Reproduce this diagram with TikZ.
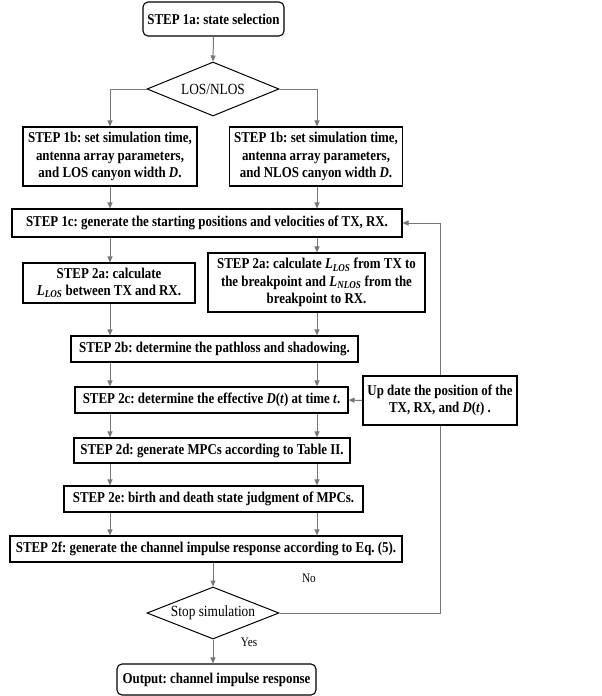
\documentclass[tikz,border=0pt]{standalone}
\usepackage{fontspec}
\setmainfont{Liberation Serif}[FakeStretch=0.86]
\usetikzlibrary{shapes.geometric,arrows.meta}
\definecolor{lgray}{HTML}{777777}
\newcommand{\bi}[1]{\textbf{\textit{#1}}}
\frenchspacing
\begin{document}
\begin{tikzpicture}[x=1pt,y=-1pt,
  box/.style={draw=black, line width=1.1pt, fill=white, align=center, inner sep=0pt, font=\fontsize{15}{17.3}\selectfont\bfseries},
  rbox/.style={box, rounded corners=5pt},
  dia/.style={diamond, aspect=2.5, draw=black, line width=1pt, fill=white, inner sep=0pt, font=\fontsize{15.5}{17}\selectfont},
  arr/.style={draw=lgray, line width=1pt, -{Triangle[length=6pt,width=5pt]}},
  ln/.style={draw=lgray, line width=1pt},
  lbl/.style={font=\fontsize{13}{15}\selectfont, inner sep=0pt}]
\useasboundingbox (0,0) rectangle (602,696);
\coordinate (cl) at (110,0);
\coordinate (cr) at (317,0);
\node[rbox, minimum width=141, minimum height=34] (s1a) at (213.5,19) {STEP 1a: state selection};
\node[dia, minimum width=132, minimum height=54] (d1) at (213,89) {LOS/NLOS};
\node[box, minimum width=174, minimum height=59] (s1bL) at (110,156.5) {STEP 1b: set simulation time,\\antenna array parameters,\\and LOS canyon width \bi{D}.};
\node[box, minimum width=173, minimum height=59] (s1bR) at (316,156.5) {STEP 1b: set simulation time,\\antenna array parameters,\\and NLOS canyon width \bi{D}.};
\node[box, minimum width=390, minimum height=28] (s1c) at (207,223) {STEP 1c: generate the starting positions and velocities of TX, RX.};
\node[box, minimum width=172, minimum height=40] (s2aL) at (109,283) {STEP 2a: calculate\\\bi{L}\textsubscript{\bi{LOS}} between TX and RX.};
\node[box, minimum width=217, minimum height=59] (s2aR) at (316.5,282.5) {STEP 2a: calculate \bi{L}\textsubscript{\bi{LOS}} from TX to\\the breakpoint and \bi{L}\textsubscript{\bi{NLOS}} from the\\breakpoint to RX.};
\node[box, minimum width=287, minimum height=26] (s2b) at (214.5,349) {STEP 2b: determine the pathloss and shadowing.};
\node[box, minimum width=273, minimum height=26] (s2c) at (211.5,400) {STEP 2c: determine the effective \bi{D}\textbf{(}\bi{t}\textbf{)} at time \bi{t}.};
\node[box, minimum width=154, minimum height=49] (upd) at (440,400.5) {Up date the position of the\\TX, RX, and \bi{D}\textbf{(}\bi{t}\textbf{)} .};
\node[box, minimum width=276, minimum height=25] (s2d) at (212,450.5) {STEP 2d: generate MPCs according to Table II.};
\node[box, minimum width=299, minimum height=26] (s2e) at (213.5,499) {STEP 2e: birth and death state judgment of MPCs.};
\node[box, minimum width=392, minimum height=26] (s2f) at (206,549) {STEP 2f: generate the channel impulse response according to Eq. (5).};
\node[dia, minimum width=132, minimum height=52] (d2) at (213,613) {Stop simulation};
\node[rbox, minimum width=199, minimum height=31] (out) at (216.5,679.5) {Output: channel impulse response};
\node[lbl] (no) at (309,578) {No};
\node[lbl] (yes) at (249,642) {Yes};
% connectors
\draw[arr] (s1a.south) -- (d1.north);
\draw[arr] (d1.west) -| (s1bL.north -| cl);
\draw[arr] (d1.east) -| (s1bR.north -| cr);
\draw[arr] (s1bL.south -| cl) -- (s1c.north -| cl);
\draw[arr] (s1bR.south -| cr) -- (s1c.north -| cr);
\draw[arr] (s1c.south -| cl) -- (s2aL.north -| cl);
\draw[arr] (s1c.south -| cr) -- (s2aR.north -| cr);
\draw[arr] (s2aL.south -| cl) -- (s2b.north -| cl);
\draw[arr] (s2aR.south -| cr) -- (s2b.north -| cr);
\draw[arr] (s2b.south -| cl) -- (s2c.north -| cl);
\draw[arr] (s2b.south -| cr) -- (s2c.north -| cr);
\draw[arr] (s2c.south -| cl) -- (s2d.north -| cl);
\draw[arr] (s2c.south -| cr) -- (s2d.north -| cr);
\draw[arr] (s2d.south -| cl) -- (s2e.north -| cl);
\draw[arr] (s2d.south -| cr) -- (s2e.north -| cr);
\draw[arr] (s2e.south -| cl) -- (s2f.north -| cl);
\draw[arr] (s2e.south -| cr) -- (s2f.north -| cr);
\draw[arr] (s2f.south -| d2.north) -- (d2.north);
\draw[arr] (d2.south) -- (out.north -| d2.south);
\draw[ln] (d2.east) -| (upd.south);
\draw[arr] (upd.north) |- (s1c.east);
\draw[arr] (upd.west) -- (s2c.east);
\end{tikzpicture}
\end{document}
